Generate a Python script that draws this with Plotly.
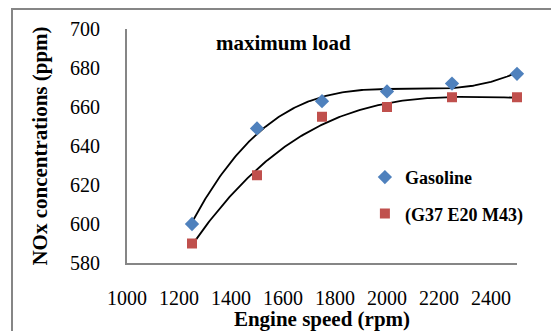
import numpy as np
import plotly.graph_objects as go

# Engine speed (rpm) and NOx readings (ppm) at maximum load
speed = [1250, 1500, 1750, 2000, 2250, 2500]
nox_gasoline = [600, 649, 663, 668, 672, 677]
nox_blend = [590, 625, 655, 660, 665, 665]

x_ticks = [1000, 1200, 1400, 1600, 1800, 2000, 2200, 2400]
y_ticks = [580, 600, 620, 640, 660, 680, 700]

SERIF = "Liberation Serif, Times New Roman, serif"
AXIS_GRAY = "#868686"

fig = go.Figure()

# Third-order polynomial trend lines
xs = np.linspace(min(speed), max(speed), 200)
for ys in (nox_gasoline, nox_blend):
    coef = np.polyfit(speed, ys, 3)
    fig.add_trace(go.Scatter(x=xs, y=np.polyval(coef, xs), mode="lines",
                             line=dict(color="black", width=1.8),
                             showlegend=False, hoverinfo="skip", cliponaxis=False))

fig.add_trace(go.Scatter(x=speed, y=nox_gasoline, mode="markers", name="Gasoline",
                         legendgroup="a", cliponaxis=False,
                         marker=dict(symbol="diamond", size=11, color="#4F81BD")))
fig.add_trace(go.Scatter(x=speed, y=nox_blend, mode="markers", name="(G37 E20 M43)",
                         legendgroup="b", cliponaxis=False,
                         marker=dict(symbol="square", size=10, color="#C0504D")))

fig.update_layout(
    width=551, height=331,
    margin=dict(l=127, r=34, t=29, b=68, autoexpand=False),
    paper_bgcolor="white", plot_bgcolor="white",
    font=dict(family=SERIF, color="black"),
    showlegend=True,
    legend=dict(x=0.61, y=0.445, xanchor="left", yanchor="top",
                bgcolor="rgba(0,0,0,0)", tracegroupgap=10,
                font=dict(family=SERIF, size=18, color="black", weight="bold"),
                itemwidth=30),
    xaxis=dict(range=[1000, 2500], tickvals=x_ticks, ticktext=[str(v) for v in x_ticks],
               showgrid=False, zeroline=False, showline=True, linecolor=AXIS_GRAY,
               linewidth=2, ticks="", ticklabelstandoff=16, automargin=False,
               tickfont=dict(family=SERIF, size=20, color="black"),
               title=dict(text="<b>Engine speed (rpm)</b>", standoff=6,
                          font=dict(family=SERIF, size=21, color="black"))),
    yaxis=dict(range=[580, 700], tickvals=y_ticks, ticktext=[str(v) for v in y_ticks],
               showgrid=False, zeroline=False, showline=True, linecolor=AXIS_GRAY,
               linewidth=2, ticks="", ticklabelstandoff=21, automargin=False,
               tickfont=dict(family=SERIF, size=20, color="black"),
               title=dict(text="<b>NOx concentrations (ppm)</b>", standoff=17,
                          font=dict(family=SERIF, size=21, color="black"))),
    annotations=[dict(text="<b>maximum load</b>", x=0.40, y=0.94, xref="paper", yref="paper",
                      xanchor="center", yanchor="middle", showarrow=False,
                      font=dict(family=SERIF, size=21, color="black"))],
    shapes=[dict(type="rect", xref="paper", yref="paper",
                 x0=(12 - 127) / 390, x1=1.2, y0=-0.5, y1=(263 - 9) / 234,
                 line=dict(color=AXIS_GRAY, width=2), layer="below")],
)

fig.write_html("out.html")
